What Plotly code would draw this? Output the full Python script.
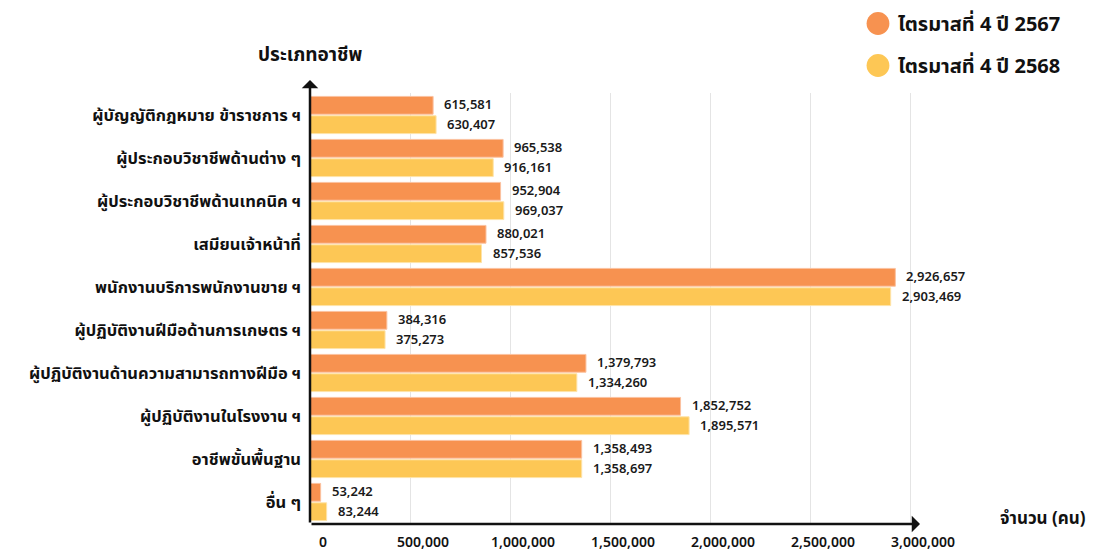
import plotly.graph_objects as go

categories = [
    "ผู้บัญญัติกฎหมาย ข้าราชการ ฯ",
    "ผู้ประกอบวิชาชีพด้านต่าง ๆ",
    "ผู้ประกอบวิชาชีพด้านเทคนิค ฯ",
    "เสมียนเจ้าหน้าที่",
    "พนักงานบริการพนักงานขาย ฯ",
    "ผู้ปฏิบัติงานฝีมือด้านการเกษตร ฯ",
    "ผู้ปฏิบัติงานด้านความสามารถทางฝีมือ ฯ",
    "ผู้ปฏิบัติงานในโรงงาน ฯ",
    "อาชีพขั้นพื้นฐาน",
    "อื่น ๆ",
]
q4_2567 = [615581, 965538, 952904, 880021, 2926657, 384316, 1379793, 1852752, 1358493, 53242]
q4_2568 = [630407, 916161, 969037, 857536, 2903469, 375273, 1334260, 1895571, 1358697, 83244]
series_names = ["ไตรมาสที่ 4 ปี 2567", "ไตรมาสที่ 4 ปี 2568"]
tick_vals = [0, 500000, 1000000, 1500000, 2000000, 2500000, 3000000]
tick_text = ["0", "500,000", "1,000,000", "1,500,000", "2,000,000", "2,500,000", "3,000,000"]

ORANGE = "#F79250"
YELLOW = "#FDC755"
FONT = "Noto Sans Thai, Kanit, Prompt, Noto Sans, sans-serif"

fig = go.Figure()
for name, vals, col, line in [
    (series_names[0], q4_2567, ORANGE, "#FBC2A0"),
    (series_names[1], q4_2568, YELLOW, "#FEE3A8"),
]:
    fig.add_trace(go.Bar(
        x=vals, y=categories, orientation="h", name=name,
        marker=dict(color=col, line=dict(color=line, width=1)),
        showlegend=False, hoverinfo="x+y",
    ))
    fig.add_trace(go.Scatter(
        x=[None], y=[None], mode="markers", name=name, legendgroup=name,
        marker=dict(color=col, size=24, symbol="circle"),
        showlegend=True,
    ))

annotations = []
for vals, shift in [(q4_2567, 10), (q4_2568, -10)]:
    for c, v in zip(categories, vals):
        annotations.append(dict(
            x=v, y=c, xref="x", yref="y", text=f"{v:,}", showarrow=False,
            xanchor="left", yanchor="middle", xshift=9, yshift=shift,
            font=dict(family=FONT, size=13, color="#1a1a1a", weight=600),
        ))

# axis arrows
annotations.append(dict(
    x=3050000, y=0, xref="x", yref="paper", ax=0, ay=0, axref="x", ayref="pixel",
    text="", showarrow=True, arrowhead=1, arrowsize=1.1, arrowwidth=2.5, arrowcolor="#111",
))
annotations.append(dict(
    x=0, y=1.03, xref="x", yref="paper", ax=0, ay=444, axref="pixel", ayref="pixel",
    text="", showarrow=True, arrowhead=1, arrowsize=1.1, arrowwidth=2.5, arrowcolor="#111",
))
# axis titles
annotations.append(dict(
    x=0, y=1.0, xref="x", yref="paper", text="<b>ประเภทอาชีพ</b>", showarrow=False,
    xanchor="center", yanchor="middle", yshift=38,
    font=dict(family=FONT, size=19, color="#111"),
))
annotations.append(dict(
    x=1.0, y=0, xref="paper", yref="paper", text="<b>จำนวน (คน)</b>", showarrow=False,
    xanchor="left", yanchor="middle", xshift=78, yshift=5,
    font=dict(family=FONT, size=17, color="#111"),
))

fig.update_layout(
    width=1106, height=552,
    margin=dict(l=310, r=186, t=93, b=28, autoexpand=False),
    paper_bgcolor="white", plot_bgcolor="white",
    barmode="group", bargap=0.1, bargroupgap=0.08,
    font=dict(family=FONT, color="#111"),
    xaxis=dict(
        range=[0, 3050000], tickvals=tick_vals, ticktext=tick_text,
        showgrid=True, gridcolor="#e4e4e4", gridwidth=1, zeroline=False,
        showline=False, ticks="", ticklabelshift=13, ticklabelstandoff=8,
        tickfont=dict(family=FONT, size=14, color="#111", weight=600),
        fixedrange=True, automargin=False,
    ),
    yaxis=dict(
        autorange="reversed", showgrid=False, zeroline=False, showline=False,
        ticks="", ticklabelstandoff=8,
        tickfont=dict(family=FONT, size=16.5, color="#111", weight="bold"),
        fixedrange=True, automargin=False,
    ),
    legend=dict(
        x=858 / 1106, y=1.0 - 4 / 552, xanchor="left", yanchor="top",
        xref="container", yref="container",
        font=dict(family=FONT, size=20, color="#111", weight="bold"),
        tracegroupgap=13, itemsizing="constant", bgcolor="rgba(0,0,0,0)",
    ),
    annotations=annotations,
)

post = """
document.body.style.margin='0px';
document.body.style.overflow='hidden';
document.querySelectorAll('.legend .legendpoints path.scatterpts').forEach(function(p){
  var t = p.getAttribute('transform') || '';
  p.setAttribute('transform', t + ' scale(1.9)');
});
"""

fig.write_html("out.html", post_script=post, config={"displayModeBar": False})
